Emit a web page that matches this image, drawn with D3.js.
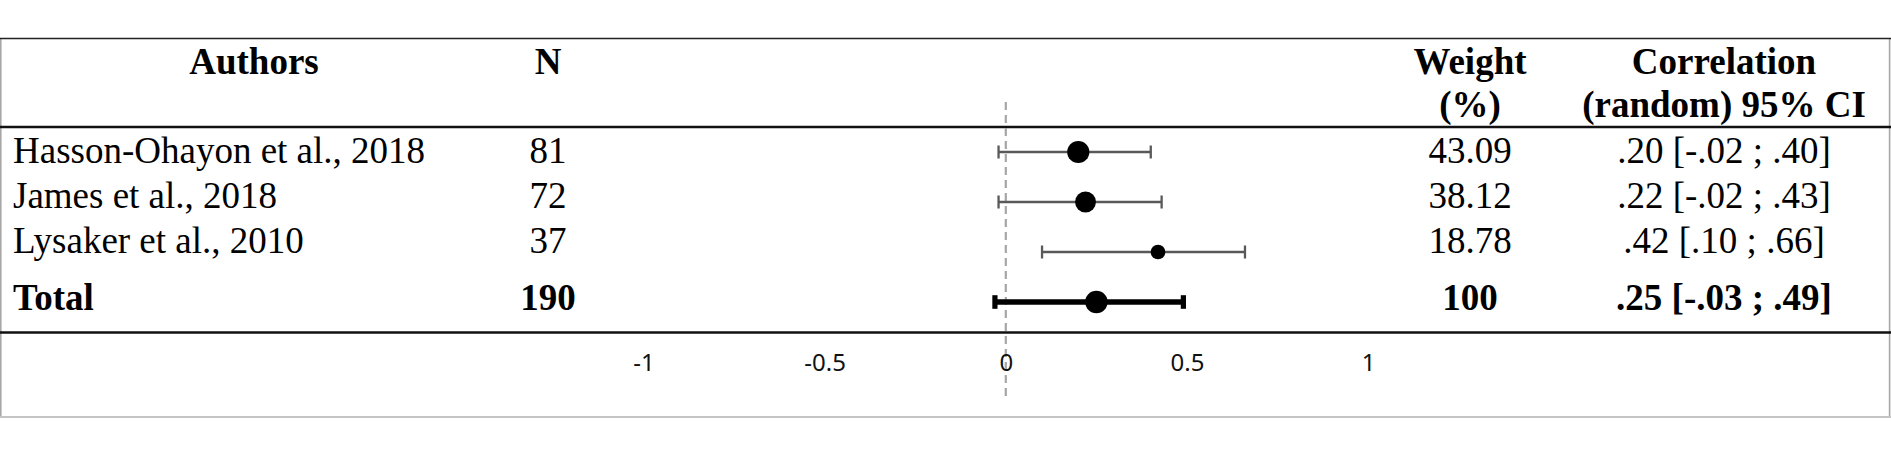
<!DOCTYPE html>
<html><head><meta charset="utf-8">
<script src="https://cdn.jsdelivr.net/npm/d3@7"></script>
<style>html,body{margin:0;padding:0;background:#fff;} svg{display:block}</style>
</head><body><svg id="chart" width="1891" height="454"></svg>
<script>
// ---- data ----
const studies = ["Hasson-Ohayon et al., 2018", "James et al., 2018", "Lysaker et al., 2010"];
const sampleN = [81, 72, 37];
const weights = [43.09, 38.12, 18.78];
const weightLabels = ["43.09", "38.12", "18.78"];
const estimates = [0.20, 0.22, 0.42];
const lowerCI = [-0.02, -0.02, 0.10];
const upperCI = [0.40, 0.43, 0.66];
const ciLabels = [".20 [-.02 ; .40]", ".22 [-.02 ; .43]", ".42 [.10 ; .66]"];
const totalName = "Total";
const totalN = 190;
const totalWeightLabel = "100";
const totalEstimate = 0.25;
const totalLower = -0.03;
const totalUpper = 0.49;
const totalCILabel = ".25 [-.03 ; .49]";
const headerAuthors = ["Authors"];
const headerN = ["N"];
const headerWeight = ["Weight", "(%)"];
const headerCorr = ["Correlation", "(random) 95% CI"];
const tickValues = [-1, -0.5, 0, 0.5, 1];
const tickLabels = ["-1", "-0.5", "0", "0.5", "1"];

// ---- layout ----
const svg = d3.select("#chart");
const serif = "'Liberation Serif', 'Times New Roman', serif";
const fs = 37;

const x = d3.scaleLinear().domain([-1, 1]).range([643.4, 1368.2]);
const rowY = d3.scalePoint().domain([...studies, totalName]).range([152, 302]);
const textY = d3.scalePoint().domain(studies).range([163.3, 253]);
const totalTextY = 310;
const r = d3.scaleSqrt().domain([0, 100]).range([0, 16.9]);

const colAuthorsHeader = 254, colNameX = 13, colN = 548, colW = 1470, colCI = 1724;

// frame lines
svg.append("line").attr("x1", 0.8).attr("x2", 0.8).attr("y1", 38).attr("y2", 417.5)
  .attr("stroke", "#a8a8a8").attr("stroke-width", 1.6);
svg.append("line").attr("x1", 1889.6).attr("x2", 1889.6).attr("y1", 38).attr("y2", 417.5)
  .attr("stroke", "#a8a8a8").attr("stroke-width", 1.6);
svg.append("line").attr("x1", 0).attr("x2", 1891).attr("y1", 417).attr("y2", 417)
  .attr("stroke", "#c4c4c4").attr("stroke-width", 2);
svg.append("line").attr("x1", 0).attr("x2", 1891).attr("y1", 38.5).attr("y2", 38.5)
  .attr("stroke", "#222").attr("stroke-width", 1.4);
svg.append("line").attr("x1", 0).attr("x2", 1891).attr("y1", 127).attr("y2", 127)
  .attr("stroke", "#111").attr("stroke-width", 2.4);
svg.append("line").attr("x1", 0).attr("x2", 1891).attr("y1", 332.5).attr("y2", 332.5)
  .attr("stroke", "#111").attr("stroke-width", 2.6);

// headers
function header(lines, cx) {
  const t = svg.append("text").attr("x", cx).attr("text-anchor", "middle")
    .attr("font-family", serif).attr("font-weight", "bold").attr("font-size", fs).attr("fill", "#000");
  lines.forEach((s, i) => {
    t.append("tspan").attr("x", cx).attr("y", 74 + i * 43).text(s);
  });
}
header(headerAuthors, colAuthorsHeader);
header(headerN, colN);
header(headerWeight, colW);
header(headerCorr, colCI);

// zero reference line
svg.append("line").attr("x1", x(0)).attr("x2", x(0)).attr("y1", 102).attr("y2", 398)
  .attr("stroke", "#a6a6a6").attr("stroke-width", 2.2).attr("stroke-dasharray", "8,5");

// axis
const axis = d3.axisBottom(x).tickValues(tickValues).tickSize(0)
  .tickFormat((d, i) => tickLabels[i]);
const ag = svg.append("g").attr("transform", "translate(0,370.5)").call(axis);
ag.select(".domain").remove();
ag.selectAll("text").attr("y", 0).attr("dy", 0)
  .attr("font-family", "'Noto Sans', 'Open Sans', sans-serif").attr("font-size", 24).attr("fill", "#111");

// study rows
const rows = studies.map((s, i) => ({name: s, n: sampleN[i], w: weights[i], wl: weightLabels[i],
  est: estimates[i], lo: lowerCI[i], hi: upperCI[i], ci: ciLabels[i]}));

const rg = svg.append("g");
rg.selectAll("line.ci").data(rows).join("line").attr("class", "ci")
  .attr("x1", d => x(d.lo)).attr("x2", d => x(d.hi))
  .attr("y1", d => rowY(d.name)).attr("y2", d => rowY(d.name))
  .attr("stroke", "#595959").attr("stroke-width", 2.3);
["lo", "hi"].forEach(k => {
  rg.selectAll("line.cap-" + k).data(rows).join("line").attr("class", "cap-" + k)
    .attr("x1", d => x(d[k])).attr("x2", d => x(d[k]))
    .attr("y1", d => rowY(d.name) - 6.5).attr("y2", d => rowY(d.name) + 6.5)
    .attr("stroke", "#595959").attr("stroke-width", 2.3);
});
rg.selectAll("circle").data(rows).join("circle")
  .attr("cx", d => x(d.est)).attr("cy", d => rowY(d.name)).attr("r", d => r(d.w))
  .attr("fill", "#000");

// total row marks
const ty = rowY(totalName);
svg.append("line").attr("x1", x(totalLower)).attr("x2", x(totalUpper)).attr("y1", ty).attr("y2", ty)
  .attr("stroke", "#000").attr("stroke-width", 5.5);
[totalLower, totalUpper].forEach(v => {
  svg.append("rect").attr("x", x(v) - 2.6).attr("y", ty - 6.8).attr("width", 5.2).attr("height", 13.6)
    .attr("fill", "#000");
});
svg.append("circle").attr("cx", x(totalEstimate)).attr("cy", ty).attr("r", 11.2).attr("fill", "#000");

// table text
const tg = svg.append("g").attr("font-family", serif).attr("font-size", fs).attr("fill", "#000");
tg.selectAll("text.name").data(rows).join("text").attr("class", "name")
  .attr("x", colNameX).attr("y", d => textY(d.name)).text(d => d.name);
tg.selectAll("text.n").data(rows).join("text").attr("class", "n")
  .attr("x", colN).attr("y", d => textY(d.name)).attr("text-anchor", "middle").text(d => d.n);
tg.selectAll("text.w").data(rows).join("text").attr("class", "w")
  .attr("x", colW).attr("y", d => textY(d.name)).attr("text-anchor", "middle").text(d => d.wl);
tg.selectAll("text.ci").data(rows).join("text").attr("class", "ci")
  .attr("x", colCI).attr("y", d => textY(d.name)).attr("text-anchor", "middle").text(d => d.ci);

const totalCells = [
  {x: colNameX, a: "start", t: totalName},
  {x: colN, a: "middle", t: String(totalN)},
  {x: colW, a: "middle", t: totalWeightLabel},
  {x: colCI, a: "middle", t: totalCILabel}
];
tg.selectAll("text.total").data(totalCells).join("text").attr("class", "total")
  .attr("x", d => d.x).attr("y", totalTextY).attr("text-anchor", d => d.a)
  .attr("font-weight", "bold").text(d => d.t);
</script>
</body></html>
